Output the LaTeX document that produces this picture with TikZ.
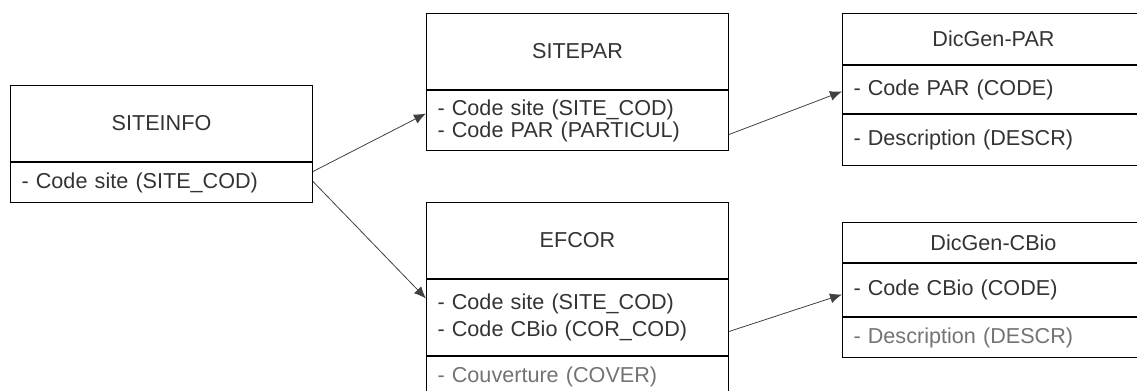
\documentclass[tikz,border=0pt]{standalone}
\usepackage{fontspec}
\setmainfont{Liberation Sans}
\usetikzlibrary{arrows.meta}

\begin{document}
\begin{tikzpicture}[x=0.5pt, y=-0.5pt,
		cell/.style={draw, line width=0.5pt, inner sep=0pt, minimum width=151pt, anchor=north west,
			font=\fontsize{10.8}{10}\selectfont, text=black!80},
		head/.style={cell, align=center},
		rows/.style={cell, align=left, inner xsep=5.5pt, text width=140pt},
		faded/.style={rows, text=black!55},
		link/.style={line width=0.4pt, color=black!75, -{Latex[length=6pt, width=5pt]}}]
		%%%%% START %%%%%
		
		\useasboundingbox (0, 0) rectangle (1137, 391);
		\clip (0, 0) rectangle (1137, 391);
		
		% SITEINFO
		\node[head, minimum height=38pt] (siteinfo) at (10, 85) {SITEINFO};
		\node[rows, minimum height=20pt] (siteinfo-attr) at (siteinfo.south west) {- Code site (SITE\_COD)};
		
		% SITEPAR
		\node[head, minimum height=38pt] (sitepar) at (426, 13) {SITEPAR};
		\node[rows, minimum height=30pt] (sitepar-attr) at (sitepar.south west) {- Code site (SITE\_COD)\\- Code PAR (PARTICUL)};
		
		% EFCOR
		\node[head, minimum height=38pt] (efcor) at (426, 202) {EFCOR};
		\node[rows, minimum height=38pt] (efcor-attr) at (efcor.south west) {- Code site (SITE\_COD)\\[2.5pt]- Code CBio (COR\_COD)};
		\node[faded, minimum height=20pt] (efcor-cover) at (efcor-attr.south west) {- Couverture (COVER)};
		
		% DicGen-PAR
		\node[head, minimum height=25.5pt] (dicpar) at (842, 13) {DicGen-PAR};
		\node[rows, minimum height=24pt] (dicpar-code) at (dicpar.south west) {- Code PAR (CODE)};
		\node[rows, minimum height=25.5pt] (dicpar-descr) at (dicpar-code.south west) {- Description (DESCR)};
		
		% DicGen-CBio
		\node[head, minimum height=20pt] (dicbio) at (842, 222) {DicGen-CBio};
		\node[rows, minimum height=26.5pt] (dicbio-code) at (dicbio.south west) {- Code CBio (CODE)};
		\node[faded, minimum height=20pt] (dicbio-descr) at (dicbio-code.south west) {- Description (DESCR)};
		
		% links
		\draw[link] ([yshift=5.5pt]siteinfo-attr.east) -- ([yshift=3.5pt]sitepar-attr.west);
		\draw[link] ([yshift=0.5pt]siteinfo-attr.east) -- ([yshift=9.5pt]efcor-attr.west);
		\draw[link] ([yshift=-7pt]sitepar-attr.east) -- ([yshift=-1pt]dicpar-code.west);
		\draw[link] ([yshift=-7pt]efcor-attr.east) -- ([yshift=-2.25pt]dicbio-code.west);
		
		%%%%% END %%%%%
	\end{tikzpicture}
\end{document}
